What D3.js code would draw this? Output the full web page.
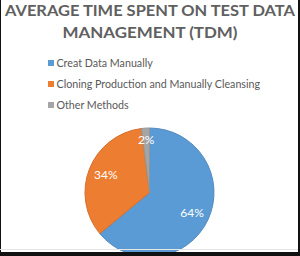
<!DOCTYPE html>
<html><head><meta charset="utf-8">
<script src="https://cdn.jsdelivr.net/npm/d3@7"></script>
<style>html,body{margin:0;padding:0;background:#fff;}svg{display:block;}</style>
</head><body>
<script>
const titleLines = ["AVERAGE TIME SPENT ON TEST DATA", "MANAGEMENT (TDM)"];
const categories = ["Creat Data Manually", "Cloning Production and Manually Cleansing", "Other Methods"];
const values = [64, 34, 2];
const colors = ["#5B9BD5", "#ED7D31", "#A5A5A5"];

const W = 300, H = 256;
const svg = d3.select("body").append("svg").attr("width", W).attr("height", H);
svg.append("rect").attr("width", W).attr("height", H).attr("fill", "#fff");

// Title
svg.append("g").selectAll("text").data(titleLines).join("text")
  .attr("x", 150).attr("y", (d, i) => 16 + i * 22)
  .attr("text-anchor", "middle")
  .attr("font-family", "Lato, 'Open Sans', sans-serif")
  .attr("font-weight", "bold").attr("font-size", 15.5)
  .attr("fill", "#606060")
  .attr("textLength", (d, i) => i === 0 ? 290 : 175)
  .attr("lengthAdjust", "spacingAndGlyphs")
  .text(d => d);

// Legend
const lg = svg.append("g").selectAll("g").data(categories).join("g")
  .attr("transform", (d, i) => `translate(48,${63 + i * 21})`);
lg.append("rect").attr("x", 0).attr("y", -3).attr("width", 6).attr("height", 6)
  .attr("fill", (d, i) => colors[i]);
lg.append("text").attr("x", 8.5).attr("y", 0).attr("dy", "0.35em")
  .attr("font-family", "Lato, 'Open Sans', sans-serif").attr("font-size", 10.7)
  .attr("fill", "#595959").text(d => d);

// Pie
const cx = 149.5, cy = 192.5, r = 64.5;
const pie = d3.pie().sort(null).value(d => d)(values);
const arc = d3.arc().innerRadius(0).outerRadius(r);
const g = svg.append("g").attr("transform", `translate(${cx},${cy})`);
g.selectAll("path").data(pie).join("path")
  .attr("d", arc).attr("fill", (d, i) => colors[i])
  .attr("stroke", (d, i) => d3.color(colors[i]).darker(0.3)).attr("stroke-width", 1);
g.selectAll("text").data(pie).join("text")
  .attr("transform", d => {
    const lr = (d.endAngle - d.startAngle) < 0.3 ? 53 : 47;
    const c = d3.arc().innerRadius(lr).outerRadius(lr).centroid(d);
    return `translate(${c[0]},${c[1]})`;
  })
  .attr("text-anchor", "middle").attr("dy", "0.35em")
  .attr("font-family", "Lato, 'Open Sans', sans-serif").attr("font-size", 12)
  .attr("fill", "#fff")
  .text(d => d.data + "%");

// Frame
svg.append("rect").attr("x", 0).attr("y", 0).attr("width", 1).attr("height", H).attr("fill", "#111");
svg.append("rect").attr("x", W - 2).attr("y", 0).attr("width", 2).attr("height", H).attr("fill", "#111");
svg.append("rect").attr("x", 0).attr("y", H - 4).attr("width", W).attr("height", 4).attr("fill", "#111");
svg.append("rect").attr("x", 0).attr("y", H - 7).attr("width", W - 2).attr("height", 1).attr("fill", "#e6e6e6");
</script>
</body></html>
